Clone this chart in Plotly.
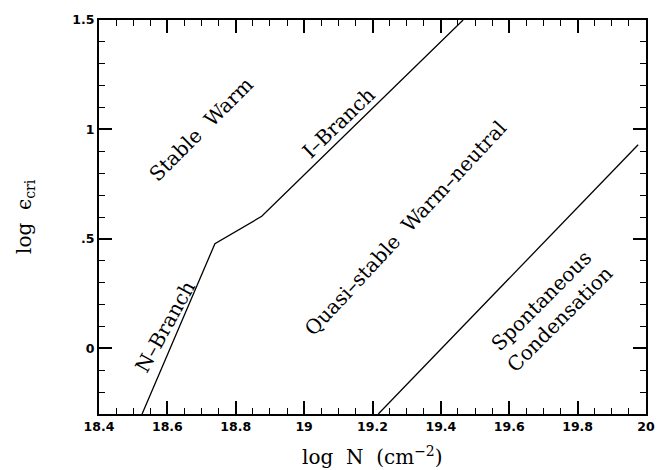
import plotly.graph_objects as go

# Data
branch_x = [18.526, 18.739, 18.876, 19.465]
branch_y = [-0.3, 0.478, 0.603, 1.5]
spont_x = [19.217, 19.977]
spont_y = [-0.3, 0.93]

x_ticks = [18.4, 18.6, 18.8, 19.0, 19.2, 19.4, 19.6, 19.8, 20.0]
x_ticktext = ["18.4", "18.6", "18.8", "19", "19.2", "19.4", "19.6", "19.8", "20"]
y_ticks = [0, 0.5, 1.0, 1.5]
y_ticktext = ["0", ".5", "1", "1.5"]

labels = [
    dict(text="Stable  Warm", x=18.7, y=1.0, angle=-45),
    dict(text="I\u2013Branch", x=19.1, y=1.03, angle=-44),
    dict(text="N\u2013Branch", x=18.595, y=0.1, angle=-61),
    dict(text="Quasi\u2013stable  Warm\u2013neutral", x=19.297, y=0.55, angle=-47),
    dict(text="Spontaneous<br>Condensation", x=19.72, y=0.175, angle=-45),
]

serif = "DejaVu Serif"
fig = go.Figure()
line_style = dict(color="black", width=1.3)
fig.add_trace(go.Scatter(x=branch_x, y=branch_y, mode="lines", line=line_style, hoverinfo="skip"))
fig.add_trace(go.Scatter(x=spont_x, y=spont_y, mode="lines", line=line_style, hoverinfo="skip"))

for lb in labels:
    fig.add_annotation(x=lb["x"], y=lb["y"], xref="x", yref="y", text=lb["text"],
                       textangle=lb["angle"], showarrow=False,
                       font=dict(family=serif, size=20, color="black"))

# axis titles
fig.add_annotation(xref="paper", yref="paper", x=0.5, y=0, yshift=-42, yanchor="middle",
                   text="log  N  (cm<sup>\u22122</sup>)", showarrow=False,
                   font=dict(family=serif, size=20, color="black"))
fig.add_annotation(xref="paper", yref="paper", x=0, y=0.5, xshift=-74, xanchor="center",
                   text="log  \u03f5<sub>cri</sub>", textangle=-90, showarrow=False,
                   font=dict(family=serif, size=20, color="black"))

axis_common = dict(
    showgrid=False, zeroline=False, showline=True, linecolor="black", linewidth=2,
    mirror="allticks", ticks="inside", ticklen=13, tickwidth=1.5, tickcolor="black",
    tickfont=dict(family="DejaVu Sans", size=12.5, color="black", weight="bold"),
)
fig.update_xaxes(range=[18.4, 20.0], tickvals=x_ticks, ticktext=x_ticktext,
                 minor=dict(ticks="inside", ticklen=6, dtick=0.05, tick0=18.4, tickcolor="black", tickwidth=1.2),
                 **axis_common)
fig.update_yaxes(range=[-0.3, 1.5], tickvals=y_ticks, ticktext=y_ticktext,
                 minor=dict(ticks="inside", ticklen=6, dtick=0.1, tick0=0, tickcolor="black", tickwidth=1.2),
                 **axis_common)

fig.update_layout(
    width=669, height=470, showlegend=False,
    margin=dict(l=99, r=23, t=13, b=56),
    plot_bgcolor="white", paper_bgcolor="white",
)
fig.write_html("out.html")
